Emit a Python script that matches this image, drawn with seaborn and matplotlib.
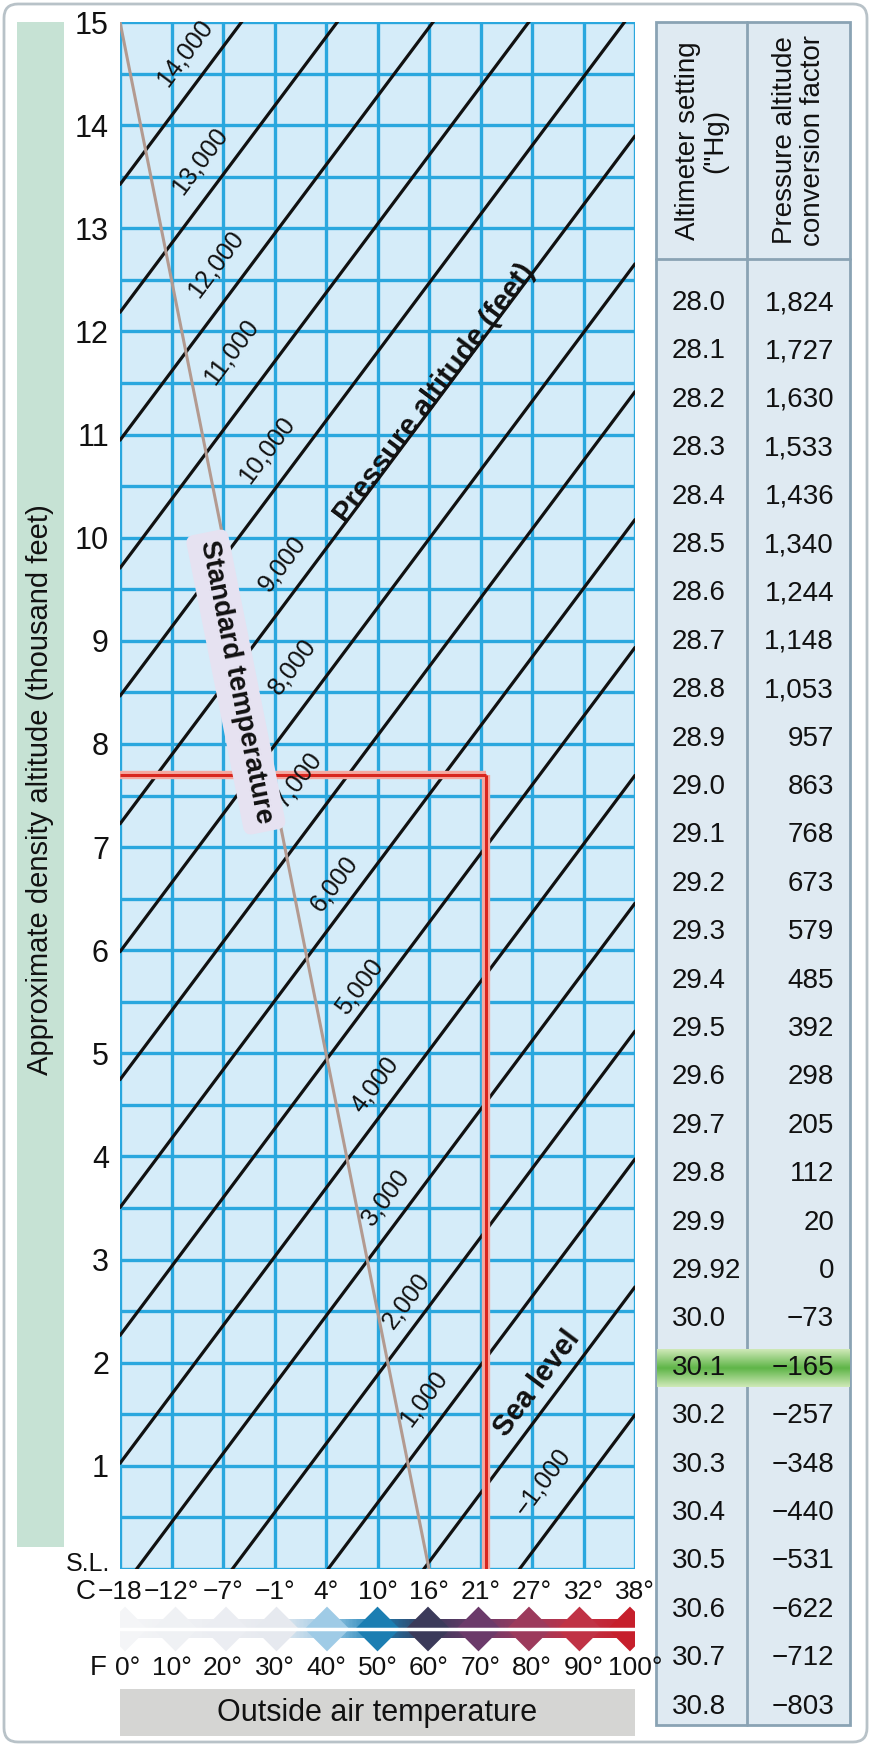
import numpy as np
import pandas as pd
import matplotlib
matplotlib.use("Agg")
import matplotlib.pyplot as plt
from matplotlib.patches import FancyBboxPatch, Rectangle
from matplotlib.colors import LinearSegmentedColormap
import seaborn as sns

sns.set_theme(style="white")
plt.rcParams['font.family'] = ['Liberation Sans Narrow', 'Liberation Sans', 'DejaVu Sans']

# ---------------- data ----------------
pressure_alt = [-1000, 0, 1000, 2000, 3000, 4000, 5000, 6000, 7000,
                8000, 9000, 10000, 11000, 12000, 13000, 14000]
da_at_0F = [-5175, -3935, -2695, -1455, -215, 1025, 2265, 3505, 4745,
            5985, 7225, 8465, 9705, 10945, 12185, 13425]
da_at_100F = [1495, 2735, 3975, 5215, 6455, 7695, 8935, 10175, 11415,
              12655, 13895, 15135, 16375, 17615, 18855, 20095]
pa_labels = ["\u22121,000", "1,000", "2,000", "3,000", "4,000", "5,000", "6,000",
             "7,000", "8,000", "9,000", "10,000", "11,000", "12,000", "13,000", "14,000"]
pa_label_T = [82, 59, 55.5, 51.5, 49.5, 46.5, 41.5, 34.5, 33.5, 31.5, 28.5, 21.5, 18.5, 15.5, 12.5]
pa_label_DA = [0.85, 1.65, 2.6, 3.6, 4.7, 5.65, 6.65, 7.65, 8.75, 9.75, 10.85, 11.8, 12.65, 13.65, 14.7]
std_temp_F = [0, 60]
std_temp_da = [15, 0]
example_temp_F = 71
example_da = 7.7
temps_F = [0, 10, 20, 30, 40, 50, 60, 70, 80, 90, 100]
temps_C = ["\u221218", "\u221212\u00b0", "\u22127\u00b0", "\u22121\u00b0", "4\u00b0", "10\u00b0",
           "16\u00b0", "21\u00b0", "27\u00b0", "32\u00b0", "38\u00b0"]
y_ticks = list(range(1, 16))
altimeter = ["28.0", "28.1", "28.2", "28.3", "28.4", "28.5", "28.6", "28.7", "28.8", "28.9",
             "29.0", "29.1", "29.2", "29.3", "29.4", "29.5", "29.6", "29.7", "29.8", "29.9",
             "29.92", "30.0", "30.1", "30.2", "30.3", "30.4", "30.5", "30.6", "30.7", "30.8"]
conversion = ["1,824", "1,727", "1,630", "1,533", "1,436", "1,340", "1,244", "1,148", "1,053",
              "957", "863", "768", "673", "579", "485", "392", "298", "205", "112", "20", "0",
              "\u221273", "\u2212165", "\u2212257", "\u2212348", "\u2212440", "\u2212531",
              "\u2212622", "\u2212712", "\u2212803"]

W, H = 871, 1746
fig = plt.figure(figsize=(W / 100, H / 100), dpi=100)
fig.patch.set_facecolor("white")

def fax(x0, y0, x1, y1):
    return fig.add_axes([x0 / W, 1 - y1 / H, (x1 - x0) / W, (y1 - y0) / H])

bg = fig.add_axes([0, 0, 1, 1]); bg.set_xlim(0, W); bg.set_ylim(H, 0); bg.axis("off")
bg.add_patch(FancyBboxPatch((4, 4), W - 8, H - 8, boxstyle="round,pad=0,rounding_size=14",
                            fc="white", ec="#b8c2c8", lw=2))
bg.add_patch(Rectangle((17, 22), 47, 1525, fc="#c6e2d4", ec="none"))
bg.text(40, 790, "Approximate density altitude (thousand feet)", rotation=90,
        ha="center", va="center", fontsize=21, color="#111")

# ---------------- main chart ----------------
ax = fax(120, 22, 635, 1569)
ax.set_facecolor("#d5ecf9")
ax.set_xlim(0, 100); ax.set_ylim(0, 15)
for xv in temps_F:
    ax.axvline(xv, color="#2aa7de", lw=2.4, zorder=1)
for yv in np.arange(0, 15.01, 0.5):
    ax.axhline(yv, color="#2aa7de", lw=2.4, zorder=1)

rows = []
for pa, a, b in zip(pressure_alt, da_at_0F, da_at_100F):
    rows.append({"pa": pa, "T": 0, "DA": a / 1000})
    rows.append({"pa": pa, "T": 100, "DA": b / 1000})
df = pd.DataFrame(rows)
sns.lineplot(data=df, x="T", y="DA", hue="pa", palette=["#111111"] * len(pressure_alt),
             lw=2.3, legend=False, ax=ax, zorder=3)

std = pd.DataFrame({"T": std_temp_F, "DA": std_temp_da})
sns.lineplot(data=std, x="T", y="DA", color="#b39a90", lw=2.2, ax=ax, zorder=4)

for lw_, c in [(6, "#f5a8a0"), (2.2, "#d8261e")]:
    ax.plot([0, example_temp_F], [example_da, example_da], color=c, lw=lw_, zorder=5,
            solid_capstyle="butt")
    ax.plot([example_temp_F, example_temp_F], [0, example_da], color=c, lw=lw_, zorder=5,
            solid_capstyle="butt")

ang = np.degrees(np.arctan2(1547 / 15, 15 * 515 / 100))
for lab, xt, yt in zip(pa_labels, pa_label_T, pa_label_DA):
    ax.text(xt, yt, lab, rotation=ang, ha="center", va="center", fontsize=18,
            color="#111", zorder=6)

ax.text(61, 11.4, "Pressure altitude (feet)", rotation=ang, ha="center", va="center",
        fontsize=21, fontweight="bold", color="#111", zorder=6)
ax.text(81, 1.8, "Sea level", rotation=ang, ha="center", va="center",
        fontsize=21, fontweight="bold", color="#111", zorder=6)
std_ang = np.degrees(np.arctan2(-15 * 1547 / 15, 60 * 515 / 100))
ax.text(22.5, 8.6, "Standard temperature", rotation=std_ang, ha="center", va="center",
        fontsize=20, fontweight="bold", color="#111", zorder=6,
        bbox=dict(boxstyle="round,pad=0.3", fc="#e6e2f1", ec="none"))

ax.set_xticks([]); ax.set_yticks(y_ticks)
ax.set_yticklabels([str(v) for v in y_ticks], fontsize=22, color="#111")
ax.tick_params(axis="y", length=0, pad=8)
ax.set_xlabel(""); ax.set_ylabel("")
for s in ax.spines.values():
    s.set_visible(False)
ax.text(-2.0, 0.05, "S.L.", ha="right", va="center", fontsize=18, color="#111")
ax.text(-4.8, -0.22, "C", ha="right", va="center", fontsize=20, color="#111", clip_on=False)
for t, c in zip(temps_F, temps_C):
    ax.text(t, -0.22, c, ha="center", va="center", fontsize=19, color="#111", clip_on=False)

# ---------------- temperature gradient bar ----------------
gax = fax(120, 1606, 635, 1652)
gax.set_xlim(-1, 101); gax.set_ylim(-1, 1)
cmap = LinearSegmentedColormap.from_list("t", [
    (0.0, "#f4f5f7"), (0.3, "#e6e9ef"), (0.4, "#9fcbe6"), (0.5, "#1b7fb4"),
    (0.6, "#3b3a5a"), (0.7, "#6a3a6a"), (0.8, "#9c3a5c"), (0.9, "#c03246"), (1.0, "#c61f2c")])
grad = np.linspace(0, 1, 400)[None, :]
gax.imshow(grad, extent=[0, 100, -0.4, 0.4], aspect="auto", cmap=cmap, zorder=1)
dm = pd.DataFrame({"T": temps_F, "y": [0] * len(temps_F)})
sns.scatterplot(data=dm, x="T", y="y", hue="T", palette=[cmap(t / 100) for t in temps_F],
                marker="D", s=520, linewidth=0, legend=False, ax=gax, zorder=2)
gax.axhline(0, color="white", lw=2.5, zorder=3)
gax.axis("off")

fax_ = fax(120, 1650, 635, 1686)
fax_.set_xlim(0, 100); fax_.set_ylim(0, 1); fax_.axis("off")
fax_.text(-2.5, 0.5, "F", ha="right", va="center", fontsize=20, color="#111")
for t in temps_F:
    fax_.text(t + (1.5 if t == 0 else 0), 0.5, f"{t}\u00b0", ha="center", va="center",
              fontsize=19, color="#111")

bg.add_patch(Rectangle((120, 1689), 515, 47, fc="#d5d5d3", ec="none"))
bg.text(377, 1713, "Outside air temperature", ha="center", va="center", fontsize=22,
        color="#111")

# ---------------- table ----------------
tx0, tx1, tmid = 656, 850, 747
ty0, ty1, thead = 22, 1725, 259
bg.add_patch(Rectangle((tx0, ty0), tx1 - tx0, ty1 - ty0, fc="#dfeaf2", ec="#8aa3b4", lw=2))
bg.plot([tmid, tmid], [ty0, ty1], color="#8aa3b4", lw=2)
bg.plot([tx0, tx1], [thead, thead], color="#8aa3b4", lw=2)
bg.text((tx0 + tmid) / 2, (ty0 + thead) / 2, "Altimeter setting\n(\"Hg)", rotation=90,
        ha="center", va="center", fontsize=20, color="#111", linespacing=1.1,
        family=["Liberation Sans", "DejaVu Sans"])
bg.text((tmid + tx1) / 2, (ty0 + thead) / 2, "Pressure altitude\nconversion factor",
        rotation=90, ha="center", va="center", fontsize=20, color="#111", linespacing=1.1,
        family=["Liberation Sans", "DejaVu Sans"])
row0, dy = 303, 48.4
for i, (a, c) in enumerate(zip(altimeter, conversion)):
    yy = row0 + i * dy
    if a == "30.1":
        hl = np.linspace(0, 1, 200)[:, None]
        gcm = LinearSegmentedColormap.from_list("g", ["#cfe9b8", "#5fb548", "#cfe9b8"])
        bg.imshow(hl, extent=[tx0 + 1, tx1 - 1, yy + 19, yy - 19], cmap=gcm, aspect="auto",
                  zorder=2)
    bg.text(tx0 + 16, yy, a, ha="left", va="center", fontsize=20, color="#111", zorder=3)
    bg.text(tx1 - 16, yy, c, ha="right", va="center", fontsize=20, color="#111", zorder=3)
bg.set_xlim(0, W); bg.set_ylim(H, 0)

fig.savefig("out.png", dpi=100, facecolor="white")
